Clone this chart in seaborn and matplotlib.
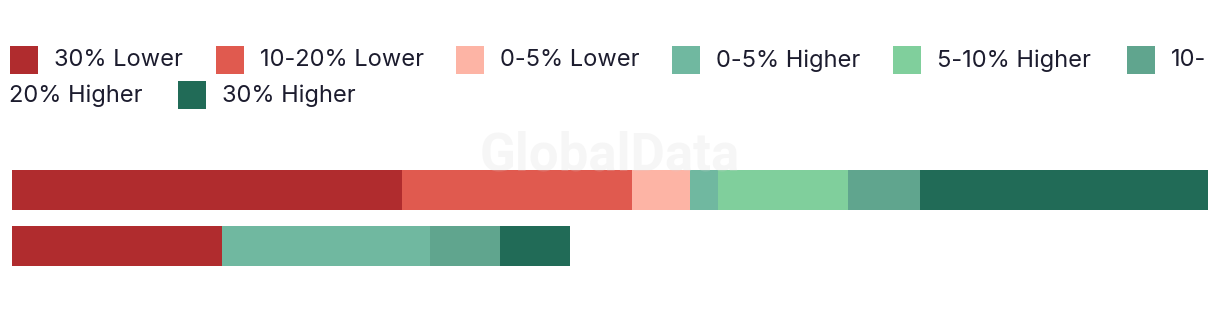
import numpy as np
import pandas as pd
import matplotlib
matplotlib.use("Agg")
import matplotlib.pyplot as plt
from matplotlib.patches import Rectangle
import seaborn as sns

# ---- data ----
rows = ["Row 1", "Row 2"]
categories = ["30% Lower", "10-20% Lower", "0-5% Lower", "0-5% Higher",
              "5-10% Higher", "10-20% Higher", "30% Higher"]
row1_values = [32.6, 19.2, 4.9, 2.3, 10.9, 6.0, 24.1]
row2_values = [17.55, 0.0, 0.0, 17.4, 0.0, 5.85, 5.85]
colors = ["#b02c2e", "#e05a4f", "#fdb4a5", "#70b8a0",
          "#80cf9c", "#60a58e", "#216b57"]
axis_max = 100

sns.set_theme(style="white")
plt.rcParams["font.family"] = ["Inter", "DejaVu Sans"]

W, H = 1220, 310
fig = plt.figure(figsize=(W / 100, H / 100), dpi=100)

# axes: bars from x=12..1208 px, rows centered y=190 and y=246
ax = fig.add_axes([12 / W, (H - 274) / H, 1196 / W, 112 / H])

vals = np.array([row1_values, row2_values])
cum = np.cumsum(vals, axis=1)
for k in range(len(categories) - 1, -1, -1):
    df = pd.DataFrame({"row": rows, "value": cum[:, k]})
    sns.barplot(data=df, x="value", y="row", orient="h", color=colors[k],
                width=40 / 56, saturation=1, ax=ax, linewidth=0, errorbar=None)

ax.set_xlim(0, axis_max)
ax.set_ylim(1.5, -0.5)
ax.set_axis_off()

# watermark
fig.text(610 / W, 1 - 156 / H, "GlobalData", ha="center", va="center",
         fontsize=38, fontweight="bold", color="#d8d8d8", alpha=0.22,
         family=["Roboto", "DejaVu Sans"], zorder=10)

# ---- legend (manually laid out to mimic wrapped HTML legend) ----
text_color = "#1c1c2e"
fs = 17
sq = 28
def square(x, yc, c):
    fig.patches.append(Rectangle((x / W, 1 - (yc + sq / 2) / H), sq / W, sq / H,
                                 transform=fig.transFigure, facecolor=c,
                                 edgecolor="none"))
def label(x, yc, s):
    fig.text(x / W, 1 - yc / H, s, ha="left", va="center_baseline",
             fontsize=fs, color=text_color)

row1_y, row2_y = 60, 95
text_y1, text_y2 = 58, 93
sq_x = [10, 216, 456, 672, 893, 1127]
for i, x in enumerate(sq_x):
    square(x, row1_y, colors[i])
    lab = categories[i]
    if i == 5:
        label(x + 44, text_y1, "10-")
    else:
        label(x + 44, text_y1, lab)
label(9, text_y2, "20% Higher")
square(178, row2_y, colors[6])
label(222, text_y2, categories[6])

fig.savefig("out.png", dpi=100)
